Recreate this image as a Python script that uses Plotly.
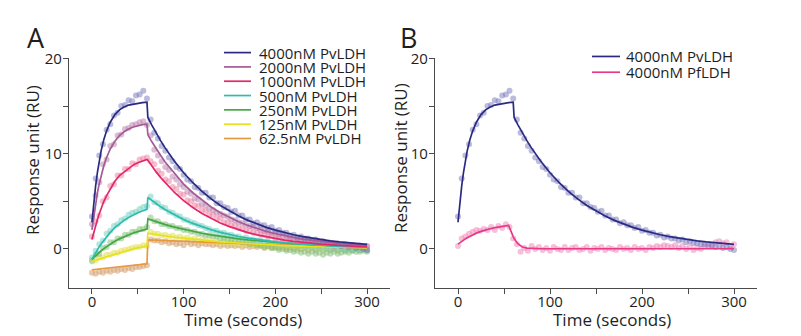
import plotly.graph_objects as go

# ---------------- data ----------------
t_fit = [0, 2, 4, 6, 8, 10, 13, 16, 20, 25, 30, 35, 40, 45, 50, 55, 60, 61, 65, 70, 75, 80,
         90, 100, 110, 120, 130, 140, 150, 160, 170, 180, 190, 200, 210, 220, 230, 240,
         250, 260, 270, 280, 290, 300]

t_dot = [0, 4, 8, 12, 16, 20, 24, 28, 32, 36, 40, 44, 48, 52, 56, 60, 64, 68, 72, 76, 80,
         84, 88, 92, 96, 100, 104, 108, 112, 116, 120, 124, 128, 132, 136, 140, 144, 148,
         152, 156, 160, 164, 168, 172, 176, 180, 184, 188, 192, 196, 200, 204, 208, 212,
         216, 220, 224, 228, 232, 236, 240, 244, 248, 252, 256, 260, 264, 268, 272, 276,
         280, 284, 288, 292, 296, 300]

names_a = ["4000nM PvLDH", "2000nM PvLDH", "1000nM PvLDH", "500nM PvLDH",
           "250nM PvLDH", "125nM PvLDH", "62.5nM PvLDH"]
names_b = ["4000nM PvLDH", "4000nM PfLDH"]

fit_4000 = [2.8, 4.9, 6.6, 8.05, 9.3, 10.3, 11.5, 12.4, 13.3, 14.1, 14.6, 14.9, 15.1, 15.2, 15.3, 15.35, 15.4,
            13.8, 13.05, 12.17, 11.34, 10.58,
            9.2, 8.0, 6.95, 6.04, 5.25, 4.57, 3.97, 3.45, 3.0, 2.61, 2.27, 1.97, 1.71, 1.49, 1.30, 1.13,
            0.98, 0.85, 0.74, 0.64, 0.56, 0.49]
fit_2000 = [2.0, 3.5, 4.8, 5.9, 6.85, 7.7, 8.75, 9.6, 10.5, 11.3, 11.9, 12.3, 12.6, 12.8, 12.95, 13.05, 13.1,
            12.0, 11.3, 10.5, 9.8, 9.1,
            7.9, 6.8, 5.9, 5.1, 4.4, 3.8, 3.3, 2.86, 2.47, 2.14, 1.85, 1.6, 1.38, 1.2, 1.03, 0.9,
            0.77, 0.67, 0.58, 0.5, 0.43, 0.37]
fit_1000 = [1.0, 1.8, 2.5, 3.1, 3.7, 4.3, 5.0, 5.6, 6.3, 7.1, 7.7, 8.1, 8.5, 8.8, 9.05, 9.25, 9.4,
            9.3, 8.74, 8.09, 7.49, 6.93,
            5.93, 5.08, 4.35, 3.73, 3.19, 2.73, 2.34, 2.0, 1.72, 1.47, 1.26, 1.08, 0.92, 0.79, 0.68, 0.58,
            0.5, 0.43, 0.36, 0.31, 0.27, 0.23]
fit_500 = [-1.1, -0.73, -0.39, -0.06, 0.24, 0.53, 0.93, 1.3, 1.74, 2.23, 2.64, 3.0, 3.3, 3.57, 3.8, 3.99, 4.16,
           5.4, 5.1, 4.75, 4.42, 4.12,
           3.57, 3.09, 2.68, 2.32, 2.01, 1.74, 1.51, 1.31, 1.14, 0.98, 0.85, 0.74, 0.64, 0.56, 0.48, 0.42,
           0.36, 0.31, 0.27, 0.24, 0.2, 0.18]
fit_250 = [-1.1, -0.9, -0.71, -0.53, -0.36, -0.19, 0.04, 0.25, 0.51, 0.81, 1.06, 1.29, 1.49, 1.67, 1.82, 1.96, 2.09,
           3.15, 3.01, 2.85, 2.7, 2.56,
           2.29, 2.05, 1.84, 1.65, 1.47, 1.32, 1.18, 1.06, 0.95, 0.85, 0.76, 0.68, 0.61, 0.55, 0.49, 0.44,
           0.39, 0.35, 0.32, 0.28, 0.25, 0.23]
fit_125 = [-1.3, -1.24, -1.17, -1.11, -1.04, -0.98, -0.88, -0.79, -0.66, -0.51, -0.37, -0.24, -0.11, 0.01, 0.12, 0.22, 0.31,
           1.65, 1.58, 1.5, 1.43, 1.36,
           1.23, 1.12, 1.01, 0.92, 0.83, 0.75, 0.68, 0.61, 0.55, 0.5, 0.45, 0.4, 0.36, 0.32, 0.29, 0.26,
           0.23, 0.2, 0.18, 0.16, 0.14, 0.12]
fit_62 = [-2.2, -2.18, -2.16, -2.14, -2.12, -2.1, -2.07, -2.04, -2.0, -1.95, -1.9, -1.84, -1.78, -1.72, -1.66, -1.6, -1.55,
          0.95, 0.94, 0.92, 0.9, 0.88,
          0.84, 0.8, 0.76, 0.72, 0.68, 0.64, 0.61, 0.57, 0.54, 0.51, 0.48, 0.45, 0.42, 0.4, 0.37, 0.35,
          0.33, 0.31, 0.29, 0.27, 0.25, 0.23]
fit_pf = [0.5, 0.66, 0.8, 0.94, 1.06, 1.18, 1.34, 1.49, 1.66, 1.84, 2.0, 2.12, 2.23, 2.32, 2.4, 2.46, 1.3,
          1.1, 0.55, 0.2, 0.08, 0.04,
          0.02, 0.02, 0.02, 0.02, 0.02, 0.02, 0.02, 0.02, 0.02, 0.02, 0.02, 0.02, 0.02, 0.02, 0.02, 0.02,
          0.02, 0.02, 0.02, 0.02, 0.02, 0.02]

dot_4000 = [3.4, 7.4, 9.8, 11.0, 12.5, 13.1, 14.0, 14.3, 15.0, 15.1, 15.6, 15.5, 16.1, 16.2, 16.6, 15.8,
            13.6, 12.2, 11.6, 10.8, 10.3, 9.6, 9.2, 8.6, 8.4, 7.8,
            7.3, 7.1, 6.5, 6.4, 5.9, 5.9, 5.4, 5.4, 4.8, 4.8,
            4.4, 4.3, 3.9, 4.0, 3.5, 3.5, 3.1, 3.1, 2.7, 2.8,
            2.5, 2.5, 2.2, 2.3, 1.9, 2.0, 1.7, 1.7, 1.4, 1.5,
            1.2, 1.3, 1.1, 1.1, 0.9, 1.0, 0.7, 0.8, 0.6, 0.6,
            0.5, 0.5, 0.3, 0.4, 0.2, 0.3, 0.1, 0.2, 0.0, -0.1]
dot_2000 = [2.6, 5.6, 7.0, 8.9, 9.4, 10.8, 11.0, 11.9, 12.0, 12.6, 12.7, 13.0, 13.1, 13.3, 13.4, 13.0,
            11.9, 10.4, 9.8, 9.2, 8.6, 8.3, 7.6, 7.3, 6.8, 6.5,
            6.0, 5.8, 5.3, 5.2, 4.7, 4.6, 4.2, 4.1, 3.8, 3.7,
            3.5, 3.4, 3.1, 3.0, 2.8, 2.7, 2.5, 2.4, 2.3, 2.2,
            2.0, 1.9, 1.8, 1.7, 1.6, 1.5, 1.4, 1.35, 1.2, 1.2,
            1.1, 1.05, 0.9, 0.95, 0.8, 0.85, 0.7, 0.75, 0.6, 0.65,
            0.5, 0.55, 0.4, 0.5, 0.35, 0.4, 0.3, 0.35, 0.2, 0.3]
dot_1000 = [1.3, 2.9, 3.5, 5.0, 5.4, 6.6, 6.8, 7.7, 7.7, 8.4, 8.4, 9.0, 8.9, 9.4, 9.5, 9.6,
            9.2, 8.9, 8.2, 7.9, 7.3, 7.1, 6.5, 6.3, 5.8, 5.7,
            5.1, 5.0, 4.6, 4.5, 4.1, 4.0, 3.6, 3.6, 3.2, 3.2,
            2.8, 2.8, 2.5, 2.5, 2.2, 2.1, 1.9, 1.9, 1.7, 1.7,
            1.5, 1.5, 1.3, 1.35, 1.1, 1.15, 0.9, 1.0, 0.8, 0.9,
            0.7, 0.8, 0.6, 0.7, 0.5, 0.6, 0.4, 0.55, 0.4, 0.5,
            0.3, 0.45, 0.3, 0.4, 0.2, 0.35, 0.2, 0.3, 0.1, 0.25]
dot_500 = [-0.9, -0.2, 0.5, 0.9, 1.6, 1.9, 2.4, 2.6, 3.0, 3.2, 3.6, 3.8, 3.9, 4.2, 4.4, 4.5,
           5.5, 4.9, 4.8, 4.4, 4.3, 3.9, 3.8, 3.5, 3.4, 3.1,
           3.0, 2.8, 2.7, 2.5, 2.4, 2.2, 2.1, 1.9, 1.9, 1.7,
           1.7, 1.5, 1.5, 1.3, 1.3, 1.1, 1.2, 1.0, 1.0, 0.9,
           0.9, 0.7, 0.8, 0.6, 0.7, 0.5, 0.6, 0.4, 0.5, 0.3,
           0.4, 0.3, 0.3, 0.2, 0.3, 0.1, 0.2, 0.1, 0.15, 0.0,
           0.1, 0.0, 0.1, -0.1, 0.05, -0.1, 0.0, -0.1, 0.0, -0.15]
dot_250 = [-1.3, -0.6, -0.5, 0.1, 0.2, 0.7, 0.7, 1.1, 1.1, 1.5, 1.5, 1.8, 1.8, 2.1, 2.1, 2.3,
           3.3, 2.9, 2.9, 2.6, 2.6, 2.4, 2.4, 2.2, 2.2, 2.0,
           2.0, 1.8, 1.8, 1.6, 1.6, 1.4, 1.45, 1.3, 1.3, 1.1,
           1.15, 1.0, 1.0, 0.8, 0.9, 0.7, 0.7, 0.5, 0.6, 0.4,
           0.4, 0.2, 0.3, 0.1, 0.1, -0.1, 0.0, -0.2, -0.1, -0.3,
           -0.2, -0.4, -0.3, -0.5, -0.3, -0.5, -0.4, -0.6, -0.4, -0.5,
           -0.3, -0.5, -0.4, -0.3, -0.4, -0.2, -0.3, -0.3, -0.2, -0.3]
dot_125 = [-1.1, -1.2, -0.9, -0.9, -0.6, -0.6, -0.4, -0.4, -0.2, -0.1, 0.0, 0.1, 0.2, 0.2, 0.4, 0.3,
           1.8, 1.6, 1.6, 1.4, 1.5, 1.3, 1.4, 1.2, 1.3, 1.1,
           1.2, 1.0, 1.1, 0.9, 1.0, 0.8, 0.9, 0.7, 0.8, 0.6,
           0.75, 0.6, 0.7, 0.5, 0.6, 0.45, 0.55, 0.4, 0.5, 0.35,
           0.45, 0.3, 0.4, 0.25, 0.35, 0.2, 0.3, 0.15, 0.25, 0.1,
           0.2, 0.1, 0.2, 0.05, 0.15, 0.0, 0.1, 0.0, 0.1, -0.05,
           0.1, -0.05, 0.05, -0.1, 0.05, -0.1, 0.0, -0.1, 0.0, -0.1]
dot_62 = [-2.5, -2.6, -2.4, -2.5, -2.3, -2.4, -2.2, -2.3, -2.1, -2.2, -2.0, -2.1, -1.9, -1.9, -1.8, -1.7,
          1.0, 0.9, 0.9, 0.7, 0.8, 0.6, 0.7, 0.5, 0.6, 0.4,
          0.7, 0.5, 0.6, 0.4, 0.6, 0.5, 0.5, 0.4, 0.5, 0.3,
          0.45, 0.3, 0.4, 0.3, 0.4, 0.2, 0.35, 0.2, 0.3, 0.2,
          0.3, 0.1, 0.25, 0.1, 0.2, 0.1, 0.2, 0.0, 0.15, 0.0,
          0.1, 0.0, 0.1, -0.1, 0.1, -0.1, 0.05, -0.1, 0.0, -0.1,
          0.0, -0.15, 0.0, -0.1, -0.05, -0.15, 0.0, -0.1, -0.05, -0.1]
dot_pf = [0.3, 1.1, 1.3, 1.6, 1.8, 2.0, 1.9, 2.1, 2.0, 2.3, 2.0, 2.4, 2.2, 2.6, 2.3, 1.1,
          0.5, -0.3, 0.1, -0.2, 0.3, 0.0, 0.2, -0.1, 0.1, -0.2,
          0.2, 0.0, -0.1, 0.2, -0.1, 0.1, 0.2, -0.1, 0.0, 0.2,
          -0.2, 0.1, 0.0, 0.2, -0.1, 0.1, 0.0, -0.1, 0.2, 0.0,
          0.1, -0.1, 0.2, 0.0, 0.1, -0.1, 0.2, 0.1, 0.3, 0.2,
          0.4, 0.3, 0.2, 0.4, 0.1, 0.3, 0.0, 0.2, -0.1, 0.1,
          0.0, 0.3, 0.5, 0.4, 0.7, 0.8, 0.6, 0.7, 0.3, 0.5]

# ---------------- styling ----------------
FONT = "Open Sans"
TXT = "#1e1e1e"
AX = "#4a4a4a"
W, H = 801, 336

line_cols_a = ["#2b2a82", "#a65a96", "#e3286a", "#2cbcb0", "#45a845", "#e6e21c", "#e8983e"]
dot_cols_a = ["rgba(120,120,190,0.5)", "rgba(185,125,170,0.5)", "rgba(238,125,160,0.5)",
              "rgba(110,205,190,0.5)", "rgba(125,190,115,0.5)", "rgba(228,224,90,0.55)",
              "rgba(212,160,112,0.55)"]
fits_a = [fit_4000, fit_2000, fit_1000, fit_500, fit_250, fit_125, fit_62]
dots_a = [dot_4000, dot_2000, dot_1000, dot_500, dot_250, dot_125, dot_62]

line_cols_b = ["#2b2a82", "#e8388a"]
dot_cols_b = ["rgba(120,120,190,0.5)", "rgba(240,130,180,0.5)"]
fits_b = [fit_4000, fit_pf]
dots_b = [dot_4000, dot_pf]

fig = go.Figure()

# dots then lines (panel A)
for i in range(len(names_a) - 1, -1, -1):
    fig.add_trace(go.Scatter(x=t_dot, y=dots_a[i], mode="markers", xaxis="x", yaxis="y",
                             marker=dict(size=6, color=dot_cols_a[i], line=dict(width=0)),
                             showlegend=False, hoverinfo="skip"))
for i in range(len(names_a) - 1, -1, -1):
    fig.add_trace(go.Scatter(x=t_fit, y=fits_a[i], mode="lines", xaxis="x", yaxis="y",
                             line=dict(color=line_cols_a[i], width=1.7),
                             name=names_a[i], showlegend=False))
# panel B
for i in range(len(names_b) - 1, -1, -1):
    fig.add_trace(go.Scatter(x=t_dot, y=dots_b[i], mode="markers", xaxis="x2", yaxis="y2",
                             marker=dict(size=6, color=dot_cols_b[i], line=dict(width=0)),
                             showlegend=False, hoverinfo="skip"))
for i in range(len(names_b) - 1, -1, -1):
    fig.add_trace(go.Scatter(x=t_fit, y=fits_b[i], mode="lines", xaxis="x2", yaxis="y2",
                             line=dict(color=line_cols_b[i], width=1.7),
                             name=names_b[i], showlegend=False))


def px_x(p):
    return p / W


def px_y(p):
    return 1 - p / H


def xaxis_cfg(d0, d1, anchor):
    return dict(domain=[px_x(d0), px_x(d1)], range=[-25, 325], anchor=anchor,
                showline=True, linecolor=AX, linewidth=1.4, mirror=False,
                ticks="outside", ticklen=5, tickwidth=1.2, tickcolor=AX,
                tickvals=[0, 100, 200, 300], ticklabelstandoff=-5,
                minor=dict(tickvals=[50, 150, 250], ticks="outside", ticklen=5,
                           tickwidth=1.2, tickcolor=AX, showgrid=False),
                showgrid=False, zeroline=False,
                tickfont=dict(family=FONT, size=15, color=TXT))


def yaxis_cfg(anchor):
    return dict(domain=[px_y(286), px_y(49)], range=[-4.06, 20], anchor=anchor,
                showline=True, linecolor=AX, linewidth=1.4,
                ticks="outside", ticklen=5, tickwidth=1.2, tickcolor=AX,
                tickvals=[0, 10, 20], ticklabelstandoff=-2,
                minor=dict(tickvals=[5, 15], ticks="outside", ticklen=5,
                           tickwidth=1.2, tickcolor=AX, showgrid=False),
                showgrid=False, zeroline=False,
                tickfont=dict(family=FONT, size=15, color=TXT))


annotations = []
shapes = []


def text(x, y, s, size, anchor="center", angle=0):
    annotations.append(dict(x=px_x(x), y=px_y(y), xref="paper", yref="paper", text=s,
                            showarrow=False, xanchor=anchor, yanchor="middle", textangle=angle,
                            font=dict(family=FONT, size=size, color=TXT)))


# panel letters and axis titles
text(36, 27, "A", 27)
text(408, 27, "B", 27)
text(33, 154, "Response unit (RU)", 17, angle=-90)
text(400, 152, "Response unit (RU)", 17, angle=-90)
text(243, 319, "Time (seconds)", 17)
text(612, 319, "Time (seconds)", 17)


def legend(names, cols, x_line0, x_line1, x_text, y0, dy):
    for i, (nm, c) in enumerate(zip(names, cols)):
        yy = y0 + i * dy
        shapes.append(dict(type="line", xref="paper", yref="paper",
                           x0=px_x(x_line0), x1=px_x(x_line1), y0=px_y(yy), y1=px_y(yy),
                           line=dict(color=c, width=1.7)))
        text(x_text, yy, nm, 15, anchor="left")


legend(names_a, line_cols_a, 224, 251, 257, 43, 14.8)
legend(names_b, line_cols_b, 592, 620, 624, 47, 16.3)

fig.update_layout(
    width=W, height=H, margin=dict(l=0, r=0, t=0, b=0),
    paper_bgcolor="white", plot_bgcolor="white",
    showlegend=False,
    xaxis=xaxis_cfg(69, 390, "y"), yaxis=yaxis_cfg("x"),
    xaxis2=xaxis_cfg(435, 757, "y2"), yaxis2=yaxis_cfg("x2"),
    annotations=annotations, shapes=shapes,
)

fig.write_html("out.html")
